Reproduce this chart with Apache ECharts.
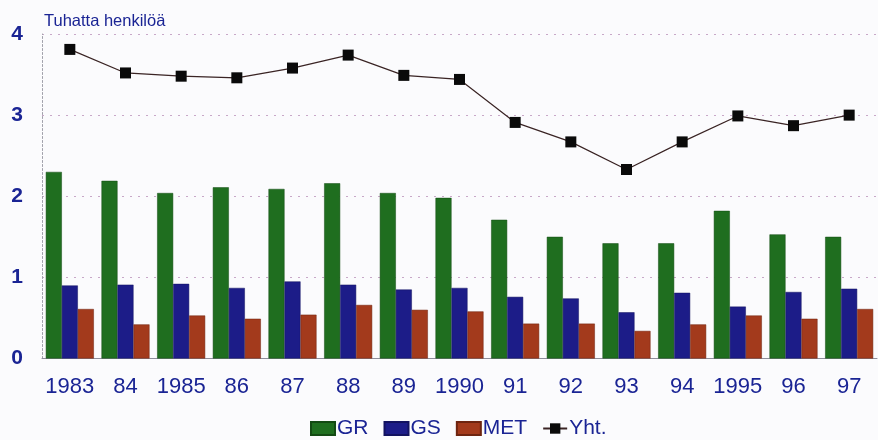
<!DOCTYPE html>
<html>
<head>
<meta charset="utf-8">
<script src="https://cdn.jsdelivr.net/npm/echarts@6/dist/echarts.min.js"></script>
<style>
  html, body { margin: 0; padding: 0; background: #fbfbfd; }
  #chart { width: 878px; height: 440px; }
</style>
</head>
<body>
<div id="chart"></div>
<script>
// Years on the category axis
const years = ['1983', '84', '1985', '86', '87', '88', '89', '1990', '91', '92', '93', '94', '1995', '96', '97'];

// Thousands of persons per group
const grValues  = [2.30, 2.19, 2.04, 2.11, 2.09, 2.16, 2.04, 1.98, 1.71, 1.50, 1.42, 1.42, 1.82, 1.53, 1.50];
const gsValues  = [0.90, 0.91, 0.92, 0.87, 0.95, 0.91, 0.85, 0.87, 0.76, 0.74, 0.57, 0.81, 0.64, 0.82, 0.86];
const metValues = [0.61, 0.42, 0.53, 0.49, 0.54, 0.66, 0.60, 0.58, 0.43, 0.43, 0.34, 0.42, 0.53, 0.49, 0.61];
const yhtValues = [3.81, 3.52, 3.48, 3.46, 3.58, 3.74, 3.49, 3.44, 2.91, 2.67, 2.33, 2.67, 2.99, 2.87, 3.00];

const textColor = '#1a2494';
const font = '"Liberation Sans", Arial, sans-serif';

const chart = echarts.init(document.getElementById('chart'), null, { renderer: 'canvas' });

chart.setOption({
  backgroundColor: '#fbfbfd',
  animation: false,
  title: {
    text: 'Tuhatta henkilöä',
    left: 39,
    top: 8,
    textStyle: { fontFamily: font, fontSize: 16.5, fontWeight: 'normal', color: textColor }
  },
  grid: { left: 42, right: 1, top: 34, bottom: 81.5 },
  legend: {
    data: [
      { name: 'GR', icon: 'rect' },
      { name: 'GS', icon: 'rect' },
      { name: 'MET', icon: 'rect' },
      { name: 'Yht.' }
    ],
    top: 413,
    left: 305,
    itemWidth: 24,
    itemHeight: 13,
    itemGap: 15,
    textStyle: { fontFamily: font, fontSize: 21, color: textColor, padding: [0, 0, 0, -3] }
  },
  xAxis: {
    type: 'category',
    data: years,
    axisLine: { lineStyle: { color: '#8d8d9a', width: 1 } },
    axisTick: { show: false },
    axisLabel: { interval: 0, fontFamily: font, fontSize: 22, color: textColor, margin: 17 }
  },
  yAxis: {
    type: 'value',
    min: 0,
    max: 4,
    interval: 1,
    axisLine: { show: true, lineStyle: { color: '#a0a0aa', type: [2, 2] } },
    axisTick: { show: false },
    axisLabel: { fontFamily: font, fontSize: 21, fontWeight: 'bold', color: textColor, margin: 19 },
    splitLine: { lineStyle: { color: '#c8a8c8', type: [2, 6], width: 1 } }
  },
  series: [
    {
      name: 'GR', type: 'bar', data: grValues,
      barWidth: 16, barGap: '0%',
      itemStyle: { color: '#1f6e1f', borderColor: '#134a13', borderWidth: 0.5 }
    },
    {
      name: 'GS', type: 'bar', data: gsValues,
      barWidth: 16, barGap: '0%',
      itemStyle: { color: '#1c1c88', borderColor: '#121260', borderWidth: 0.5 }
    },
    {
      name: 'MET', type: 'bar', data: metValues,
      barWidth: 16, barGap: '0%',
      itemStyle: { color: '#a33a1c', borderColor: '#6e2410', borderWidth: 0.5 }
    },
    {
      name: 'Yht.', type: 'line', data: yhtValues,
      symbol: 'rect', symbolSize: 11,
      lineStyle: { color: '#3a2424', width: 1.2 },
      itemStyle: { color: '#0a0a0a' },
      z: 5
    }
  ]
});
</script>
</body>
</html>
